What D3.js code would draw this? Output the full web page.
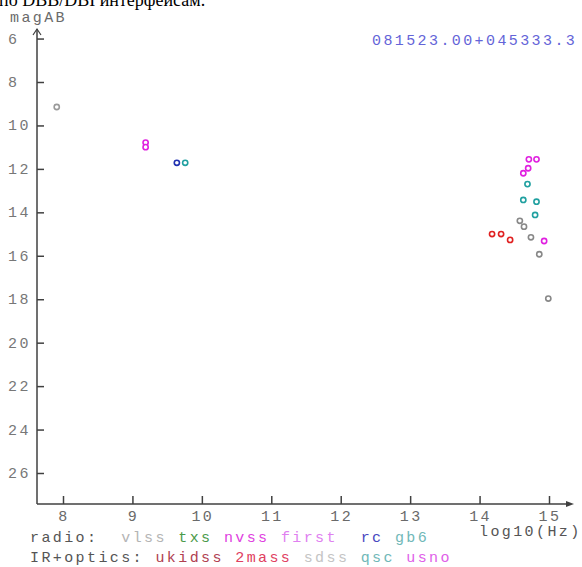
<!DOCTYPE html>
<html><head><meta charset="utf-8">
<script src="https://cdn.jsdelivr.net/npm/d3@7"></script>
<style>
html,body{margin:0;padding:0;background:#fff;overflow:hidden;}
text{font-family:"Liberation Mono","Courier New",monospace;}
</style></head>
<body>
<script>
const xTicks = [8,9,10,11,12,13,14,15];
const yTicks = [6,8,10,12,14,16,18,20,22,24,26];
const sourceName = "081523.00+045333.3";
const headerText = "по DBB/DBI интерфейсам.";
// series: [log10(Hz), magAB]
const vlss = [[7.91, 9.15]];
const nvss = [[9.19, 10.79],[9.19, 11.0]];
const rc   = [[9.64, 11.72]];
const gb6  = [[9.76, 11.72]];
const usno = [[14.71,11.56],[14.82,11.56],[14.70,11.97],[14.63,12.2],[14.93,15.32]];
const qsc  = [[14.69,12.70],[14.63,13.43],[14.82,13.51],[14.80,14.12]];
const sdss = [[14.58,14.39],[14.64,14.66],[14.74,15.15],[14.86,15.93],[14.99,17.97]];
const twomass = [[14.18,15.0],[14.31,15.0],[14.44,15.27]];
const radioLegend = [["vlss","#b4b4b4"],["txs","#4a9a4a"],["nvss","#e040e0"],["first","#e080f0"],["rc","#4848c0"],["gb6","#70b8b8"]];
const irLegend = [["ukidss","#b04050"],["2mass","#e04060"],["sdss","#c4c4c4"],["qsc","#70b8b8"],["usno","#e060e8"]];
const radioGaps = ["  "," "," "," ","  "," "];
const irGaps = [" "," "," "," "," "];

const W=582,H=567;
const svg=d3.select("body").append("svg").attr("width",W).attr("height",H);
const x=d3.scaleLinear().domain([8,15]).range([63,549]);
const y=d3.scaleLinear().domain([8,26]).range([82,473]);
const x0=37, y0=504;

// header (clipped at top)
svg.append("text").attr("x",-1).attr("y",6).style("font-family","'Liberation Serif','Times New Roman',serif")
  .style("font-size","18px").attr("fill","#000").text(headerText);

const axisCol="#404040";
// y axis ticks
const ya=svg.append("g").attr("transform",`translate(${x0},0)`)
  .call(d3.axisLeft(y).tickValues(yTicks).tickSize(-7).tickFormat(""));
ya.select(".domain").remove();
ya.selectAll("line").attr("stroke",axisCol).attr("stroke-width",1.5);
const xa=svg.append("g").attr("transform",`translate(0,${y0})`)
  .call(d3.axisBottom(x).tickValues(xTicks).tickSize(-8).tickFormat(""));
xa.select(".domain").remove();
xa.selectAll("line").attr("stroke",axisCol).attr("stroke-width",1.5);

// axis lines
svg.append("line").attr("x1",x0).attr("y1",y0).attr("x2",x0).attr("y2",29).attr("stroke",axisCol).attr("stroke-width",1.5);
svg.append("path").attr("d",`M${x0-4},35 L${x0},29 L${x0+4},35`).attr("fill","none").attr("stroke",axisCol).attr("stroke-width",1.2);
svg.append("line").attr("x1",x0).attr("y1",y0).attr("x2",570).attr("y2",y0).attr("stroke",axisCol).attr("stroke-width",1.5);
svg.append("path").attr("d",`M566,${y0-3} L574,${y0} L566,${y0+3} Z`).attr("fill",axisCol);

const labStyle=s=>s.style("font-size","15px").style("letter-spacing","2.4px");
// y labels
svg.selectAll("text.yl").data(yTicks).join("text").attr("class","yl")
  .attr("x",8).attr("y",d=>y(d)+5).attr("fill","#777").call(labStyle).text(d=>d);
// x labels
svg.selectAll("text.xl").data(xTicks).join("text").attr("class","xl")
  .attr("x",d=>x(d)+1).attr("y",521).attr("text-anchor","middle").attr("fill","#6a6a6a").call(labStyle).text(d=>d);

svg.append("text").attr("x",10).attr("y",22).attr("fill","#6a6a6a").call(labStyle).text("magAB");
svg.append("text").attr("x",479).attr("y",536).attr("fill","#555").call(labStyle).text("log10(Hz)");
svg.append("text").attr("x",372).attr("y",45).attr("fill","#6464d8").call(labStyle).text(sourceName);

// legend rows
function legendRow(label, items, gaps, yy){
  const t=svg.append("text").attr("x",30).attr("y",yy).attr("fill","#555").call(labStyle).style("white-space","pre");
  t.append("tspan").text(label);
  items.forEach((it,i)=>{
    t.append("tspan").text(gaps[i]);
    t.append("tspan").attr("fill",it[1]).text(it[0]);
  });
}
legendRow("radio:",radioLegend,radioGaps,542);
legendRow("IR+optics:",irLegend,irGaps,562);

// points
const series=[[vlss,"#9a9a9a"],[nvss,"#e020e0"],[rc,"#2030b0"],[gb6,"#20a0a0"],
  [usno,"#e020e0"],[qsc,"#20a0a0"],[sdss,"#888888"],[twomass,"#e02020"]];
series.forEach(([data,col])=>{
  svg.append("g").selectAll("circle").data(data).join("circle")
    .attr("cx",d=>x(d[0])).attr("cy",d=>y(d[1])).attr("r",2.6)
    .attr("fill","#fff").attr("stroke",col).attr("stroke-width",1.6);
});
</script>
</body></html>
